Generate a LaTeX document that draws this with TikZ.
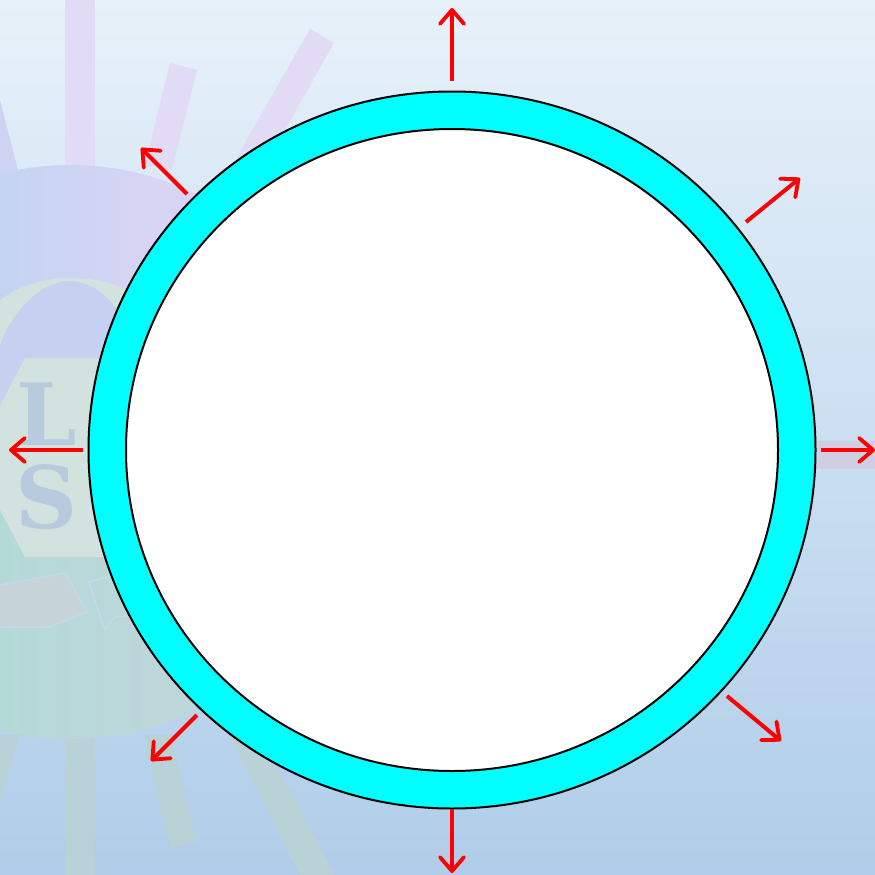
\documentclass[tikz,border=0pt]{standalone}
\usepackage{xcolor}
\usepackage{fontspec}
\usetikzlibrary{arrows.meta, shapes.geometric}
\newfontfamily\emblemfont{DejaVu Serif}
\definecolor{skytop}{HTML}{E7F1FA}
\definecolor{skybottom}{HTML}{B0CDE9}
\definecolor{raytop}{HTML}{E1DBF6}
\definecolor{raybottom}{HTML}{B8D2D8}
\definecolor{raywest}{HTML}{D0CEE2}
\definecolor{diskblue}{HTML}{C4D4F3}
\definecolor{diskpurple}{HTML}{D8D4F3}
\definecolor{diskteal}{HTML}{B4DAD8}
\definecolor{diskgreen}{HTML}{BCD6DA}
\definecolor{diskpale}{HTML}{D2E2DE}
\definecolor{archblue}{HTML}{C6D0F0}
\definecolor{letterblue}{HTML}{B8CADD}
\definecolor{bandgrey}{HTML}{C6D4D8}
\definecolor{bandedge}{HTML}{C4D8EC}
\definecolor{ringcyan}{HTML}{00FFFF}

\begin{document}
\begin{tikzpicture}[
    x=1pt, y=-1pt,
    ringedge/.style={ellipse, draw=black, line width=2pt, inner sep=0pt},
    pressure/.style={-{Straight Barb[round, length=14pt, width=24pt, line width=3.8pt]}, draw=red, line width=4pt},
    raybar/.style={fill=raytop, draw=none},
    rayfoot/.style={fill=raybottom, draw=none},
    letter/.style={font=\emblemfont\fontsize{86}{86}\selectfont\bfseries, text=letterblue, inner sep=0pt},
]

% backdrop
\shade[top color=skytop, bottom color=skybottom, draw=none] (0,0) rectangle (875,875);
\useasboundingbox (0,0) rectangle (875,875);

% faded emblem behind the ring
\begin{scope}
\clip (0,0) rectangle (875,875);
\fill[raybar] (65,0) rectangle (95,170);
\fill[raybar] (170,63) -- (197,70) -- (172,170) -- (145,165) -- cycle;
\fill[raybar] (310,29) -- (334,43) -- (262,170) -- (237,157) -- cycle;
\fill[raybar, fill=archblue!70!raytop] (0,100) -- (18,170) -- (0,175) -- cycle;
\fill[rayfoot] (65,730) rectangle (95,875);
\fill[rayfoot] (144,735) -- (170,848) -- (197,842) -- (171,735) -- cycle;
\fill[rayfoot] (225,727) -- (300,875) -- (335,875) -- (260,735) -- cycle;
\fill[rayfoot] (0,735) -- (20,735) -- (0,800) -- cycle;
\fill[raywest] (800,441) rectangle (875,469);
\begin{scope}
\clip (70,452) circle[radius=287];
\fill[diskpurple] (150,160) rectangle (360,400);
\fill[diskgreen] (150,400) rectangle (360,740);
\shade[left color=diskblue, right color=diskpurple, draw=none] (0,160) rectangle (151,400);
\shade[left color=diskteal, right color=diskgreen, draw=none] (0,400) rectangle (151,740);
\end{scope}
\fill[diskpale] (0,300) .. controls (20,285) and (45,278) .. (70,278) .. controls (100,278) and (125,285) .. (140,300) -- (200,450) -- (140,557) -- (25,557) -- (0,510) -- cycle;
\fill[archblue] (0,345) .. controls (15,305) and (45,281) .. (70,281) .. controls (100,282) and (125,310) .. (140,358) -- (25,358) -- (0,405) -- cycle;
\filldraw[fill=bandgrey, draw=bandedge, line width=1.5pt] (0,585) -- (65,573) -- (87,612) -- (50,627) -- (0,627);
\draw[bandedge, line width=1.5pt] (125,572) -- (89,582) -- (105,630) -- (114,617) -- (135,615);
\end{scope}
\node[letter] (letterl) at (47,414) {L};
\node[letter] (letters) at (47,497) {S};

% ring
\node[ringedge, fill=ringcyan, minimum width=727pt, minimum height=717pt] (outer) at (452,450) {};
\node[ringedge, fill=white, minimum width=652pt, minimum height=642pt] (inner) at (452,450) {};

% outward arrows
\foreach \name/\sx/\sy/\ex/\ey in {north/452/81/452/8, northeast/746/222/800/178, east/821/450/875/450, southeast/727/696/781/741, south/452/809/452/873, southwest/197/715/151/761, west/83/450/9/450, northwest/187/194/141/148}{
    \coordinate (\name start) at (\sx,\sy);
    \coordinate (\name tip) at (\ex,\ey);
    \draw[pressure] (\name start) -- (\name tip);
}

\end{tikzpicture}
\end{document}
